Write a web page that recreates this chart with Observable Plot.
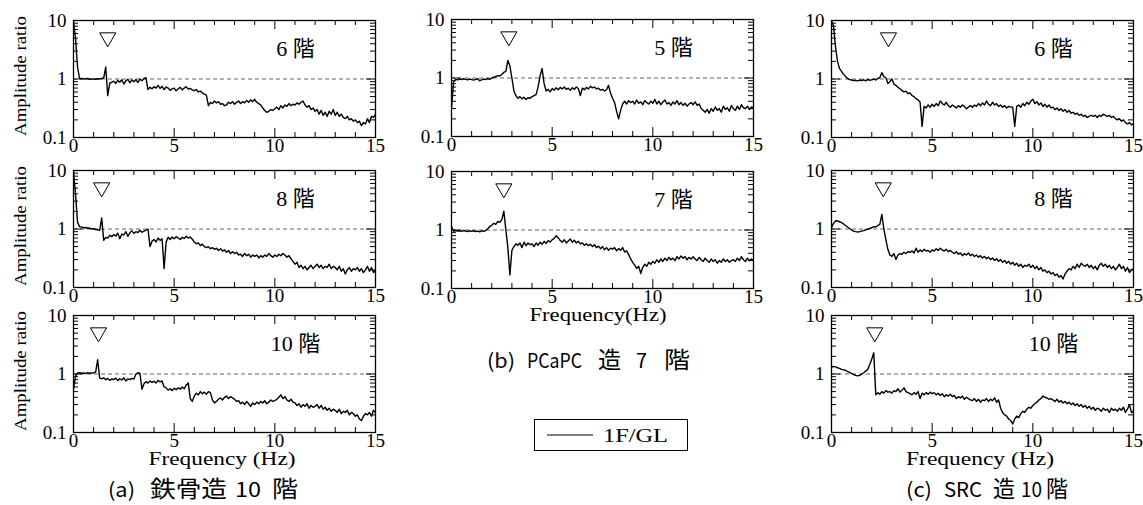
<!DOCTYPE html>
<html><head><meta charset="utf-8">
<script src="https://cdn.jsdelivr.net/npm/d3@7"></script>
<script src="https://cdn.jsdelivr.net/npm/@observablehq/plot@0.6"></script>
<style>
body{margin:0;background:#fff;}
#wrap{position:relative;width:1143px;height:505px;overflow:hidden;background:#fff;}
#overlay{position:absolute;left:0;top:0;}
#wrap svg text{font-family:'Liberation Serif','Noto Sans CJK JP',serif !important;}
#overlay text.cjk{font-family:'Noto Sans CJK JP','Noto Sans',sans-serif !important;}
</style></head><body><div id="wrap"></div>
<script>
// ---- data ----
const freqStep = 0.1; // Hz between samples, 0 .. 15 Hz
const steel6 = [9.5,5.0,1.6,1.03,1.02,1.01,1.0,1.02,0.99,1.0,
 1.0,0.99,1.01,1.0,1.02,1.05,1.6,0.52,0.85,0.88,
 0.92,0.84,0.95,0.88,0.97,0.82,0.93,0.99,0.86,0.96,
 0.9,0.98,0.87,1.0,0.93,1.02,1.05,0.66,0.72,0.68,
 0.74,0.7,0.78,0.69,0.75,0.66,0.73,0.7,0.64,0.68,
 0.7,0.63,0.68,0.72,0.65,0.7,0.74,0.67,0.69,0.65,
 0.63,0.66,0.6,0.62,0.58,0.55,0.53,0.35,0.4,0.38,
 0.42,0.39,0.41,0.37,0.38,0.35,0.36,0.4,0.38,0.41,
 0.37,0.4,0.42,0.38,0.41,0.39,0.43,0.4,0.44,0.41,
 0.45,0.4,0.38,0.36,0.32,0.29,0.27,0.28,0.3,0.29,
 0.31,0.33,0.3,0.35,0.32,0.36,0.34,0.38,0.35,0.37,
 0.36,0.39,0.37,0.4,0.42,0.36,0.33,0.35,0.3,0.32,
 0.28,0.3,0.25,0.29,0.24,0.27,0.23,0.28,0.25,0.3,
 0.24,0.27,0.23,0.25,0.22,0.21,0.23,0.2,0.21,0.19,
 0.2,0.18,0.19,0.16,0.18,0.17,0.21,0.18,0.23,0.22,
 0.25];
const steel8 = [9.5,4.0,1.3,1.1,1.08,1.05,1.06,1.03,1.04,1.0,
 1.01,0.98,0.97,0.95,1.55,0.64,0.72,0.7,0.78,0.74,
 0.8,0.76,0.85,0.68,0.82,0.79,0.9,0.75,0.86,0.93,
 0.84,0.9,0.87,0.95,0.88,0.92,0.96,1.0,0.5,0.62,
 0.66,0.6,0.7,0.64,0.68,0.21,0.6,0.72,0.66,0.73,
 0.68,0.74,0.7,0.66,0.72,0.69,0.75,0.7,0.73,0.67,
 0.6,0.56,0.58,0.52,0.55,0.5,0.48,0.5,0.46,0.48,
 0.45,0.47,0.43,0.46,0.42,0.44,0.4,0.43,0.38,0.41,
 0.38,0.4,0.36,0.37,0.34,0.38,0.35,0.37,0.33,0.36,
 0.34,0.36,0.32,0.35,0.33,0.36,0.34,0.38,0.35,0.33,
 0.36,0.34,0.37,0.35,0.38,0.36,0.33,0.35,0.31,0.28,
 0.25,0.27,0.22,0.24,0.21,0.23,0.2,0.22,0.24,0.21,
 0.23,0.25,0.22,0.24,0.21,0.23,0.22,0.25,0.21,0.23,
 0.22,0.2,0.23,0.19,0.21,0.17,0.2,0.22,0.19,0.21,
 0.2,0.22,0.19,0.21,0.18,0.2,0.23,0.19,0.22,0.18,
 0.2];
const steel10 = [0.55,0.9,1.04,1.05,1.03,1.04,1.02,1.05,1.03,1.04,
 1.05,1.08,1.75,0.85,0.83,0.86,0.8,0.84,0.78,0.82,
 0.8,0.85,0.77,0.83,0.79,0.86,0.76,0.82,0.8,0.84,
 0.82,1.0,1.05,1.03,0.55,0.68,0.74,0.7,0.76,0.72,
 0.75,0.7,0.78,0.73,0.76,0.6,0.58,0.53,0.56,0.52,
 0.57,0.54,0.58,0.55,0.6,0.56,0.65,0.7,0.38,0.34,
 0.42,0.47,0.44,0.5,0.46,0.49,0.45,0.5,0.48,0.36,
 0.32,0.34,0.37,0.39,0.36,0.4,0.42,0.38,0.41,0.39,
 0.37,0.34,0.35,0.31,0.33,0.3,0.34,0.31,0.28,0.32,
 0.3,0.33,0.31,0.34,0.32,0.35,0.31,0.33,0.36,0.34,
 0.35,0.37,0.4,0.44,0.38,0.41,0.36,0.34,0.37,0.33,
 0.32,0.29,0.31,0.27,0.3,0.28,0.31,0.26,0.29,0.27,
 0.28,0.3,0.26,0.29,0.25,0.27,0.24,0.26,0.23,0.25,
 0.24,0.22,0.25,0.21,0.23,0.22,0.24,0.2,0.22,0.21,
 0.19,0.2,0.17,0.16,0.19,0.21,0.2,0.22,0.19,0.24,
 0.22];
const pcapc5 = [0.3,0.85,0.95,0.93,0.96,0.94,0.97,0.95,0.93,0.96,
 0.94,0.92,0.95,0.97,0.9,0.93,0.96,0.94,0.98,0.95,
 1.0,1.03,1.06,1.1,1.08,1.15,1.25,1.3,2.0,1.6,
 1.0,0.6,0.5,0.45,0.48,0.44,0.47,0.43,0.46,0.45,
 0.48,0.5,0.52,0.7,1.1,1.45,0.8,0.6,0.64,0.58,
 0.66,0.62,0.68,0.63,0.69,0.65,0.7,0.64,0.67,0.62,
 0.68,0.64,0.7,0.66,0.5,0.67,0.63,0.69,0.65,0.72,
 0.68,0.7,0.65,0.67,0.62,0.64,0.6,0.63,0.75,0.55,
 0.45,0.38,0.27,0.2,0.28,0.36,0.4,0.36,0.41,0.38,
 0.4,0.36,0.42,0.37,0.39,0.35,0.41,0.38,0.36,0.4,
 0.37,0.43,0.36,0.4,0.35,0.39,0.42,0.36,0.38,0.34,
 0.39,0.36,0.41,0.35,0.38,0.34,0.37,0.33,0.36,0.38,
 0.35,0.39,0.34,0.36,0.3,0.28,0.26,0.29,0.25,0.3,
 0.27,0.32,0.28,0.3,0.26,0.33,0.29,0.31,0.27,0.34,
 0.3,0.28,0.33,0.29,0.35,0.31,0.3,0.33,0.29,0.32,
 0.31];
const pcapc7 = [1.15,0.95,0.98,0.96,0.97,0.95,0.98,0.96,0.94,0.97,
 0.95,0.97,0.94,0.96,0.93,0.97,0.95,0.98,1.05,1.15,
 1.2,1.3,1.25,1.4,1.35,1.5,2.1,1.0,0.5,0.17,
 0.45,0.52,0.58,0.55,0.6,0.5,0.62,0.54,0.6,0.56,
 0.58,0.52,0.6,0.55,0.62,0.57,0.64,0.59,0.66,0.62,
 0.68,0.72,0.8,0.74,0.66,0.62,0.68,0.6,0.65,0.7,
 0.62,0.67,0.6,0.64,0.58,0.6,0.55,0.58,0.54,0.57,
 0.52,0.56,0.5,0.53,0.48,0.52,0.46,0.5,0.45,0.49,
 0.47,0.5,0.44,0.48,0.45,0.5,0.42,0.44,0.38,0.32,
 0.28,0.25,0.22,0.24,0.18,0.23,0.26,0.24,0.28,0.26,
 0.29,0.27,0.31,0.28,0.32,0.29,0.33,0.3,0.34,0.31,
 0.33,0.3,0.35,0.32,0.36,0.33,0.35,0.31,0.34,0.32,
 0.35,0.32,0.3,0.34,0.31,0.29,0.33,0.3,0.28,0.32,
 0.29,0.31,0.27,0.3,0.28,0.32,0.29,0.31,0.28,0.3,
 0.31,0.29,0.33,0.3,0.35,0.31,0.29,0.33,0.3,0.32,
 0.3];
const src6 = [10,8,3.5,2.0,1.5,1.35,1.2,1.1,1.02,0.98,
 0.96,0.94,0.95,0.93,0.96,0.94,0.97,0.93,0.98,0.95,
 0.97,1.0,0.96,1.02,1.05,1.28,1.1,1.05,0.84,0.9,
 1.0,0.82,0.78,0.72,0.68,0.64,0.6,0.62,0.56,0.58,
 0.52,0.5,0.46,0.44,0.4,0.155,0.34,0.32,0.36,0.33,
 0.37,0.34,0.38,0.35,0.42,0.38,0.36,0.4,0.35,0.33,
 0.36,0.34,0.32,0.35,0.33,0.36,0.34,0.31,0.33,0.35,
 0.33,0.36,0.34,0.38,0.35,0.39,0.36,0.42,0.37,0.35,
 0.4,0.36,0.38,0.34,0.36,0.33,0.35,0.32,0.34,0.33,
 0.33,0.155,0.34,0.36,0.33,0.38,0.35,0.4,0.37,0.42,
 0.45,0.38,0.41,0.36,0.39,0.34,0.37,0.33,0.36,0.32,
 0.33,0.3,0.32,0.29,0.31,0.28,0.3,0.27,0.29,0.26,
 0.27,0.25,0.26,0.24,0.25,0.23,0.24,0.22,0.23,0.24,
 0.23,0.24,0.22,0.24,0.23,0.25,0.24,0.23,0.24,0.22,
 0.23,0.21,0.2,0.21,0.19,0.2,0.18,0.17,0.18,0.165,
 0.17];
const src8 = [1.05,1.25,1.38,1.37,1.33,1.28,1.22,1.15,1.08,1.02,
 0.96,0.92,0.9,0.89,0.9,0.92,0.94,0.97,0.99,1.02,
 1.05,1.1,1.08,1.15,1.2,1.78,1.0,0.66,0.45,0.36,
 0.34,0.38,0.3,0.36,0.38,0.37,0.4,0.38,0.41,0.4,
 0.42,0.39,0.47,0.4,0.44,0.41,0.45,0.42,0.43,0.4,
 0.44,0.42,0.46,0.43,0.47,0.44,0.42,0.45,0.41,0.43,
 0.4,0.38,0.41,0.37,0.39,0.35,0.38,0.36,0.39,0.35,
 0.37,0.34,0.36,0.33,0.35,0.32,0.34,0.31,0.33,0.3,
 0.32,0.29,0.31,0.28,0.3,0.27,0.29,0.26,0.28,0.25,
 0.27,0.24,0.26,0.23,0.25,0.22,0.24,0.23,0.25,0.22,
 0.24,0.21,0.23,0.2,0.22,0.19,0.2,0.18,0.19,0.17,
 0.18,0.16,0.17,0.15,0.16,0.14,0.17,0.19,0.21,0.2,
 0.23,0.21,0.25,0.22,0.26,0.24,0.23,0.25,0.22,0.24,
 0.21,0.23,0.2,0.24,0.26,0.23,0.25,0.22,0.24,0.21,
 0.23,0.2,0.22,0.25,0.21,0.23,0.19,0.22,0.18,0.2,
 0.21];
const src10 = [1.3,1.35,1.32,1.28,1.25,1.2,1.18,1.15,1.1,1.07,
 1.02,0.98,0.95,0.93,0.95,1.0,1.05,1.12,1.2,1.45,
 1.8,2.3,0.44,0.48,0.45,0.5,0.47,0.52,0.49,0.5,
 0.47,0.52,0.5,0.56,0.49,0.53,0.58,0.5,0.48,0.46,
 0.44,0.48,0.45,0.5,0.38,0.47,0.44,0.48,0.45,0.49,
 0.46,0.48,0.44,0.47,0.43,0.46,0.41,0.44,0.42,0.45,
 0.41,0.43,0.38,0.41,0.39,0.42,0.37,0.4,0.38,0.36,
 0.35,0.38,0.34,0.37,0.33,0.36,0.35,0.38,0.34,0.37,
 0.35,0.39,0.33,0.36,0.26,0.22,0.2,0.19,0.17,0.16,
 0.14,0.17,0.19,0.18,0.21,0.23,0.22,0.25,0.27,0.26,
 0.29,0.31,0.33,0.36,0.38,0.42,0.4,0.39,0.37,0.38,
 0.36,0.34,0.37,0.33,0.35,0.32,0.34,0.31,0.33,0.3,
 0.32,0.29,0.31,0.28,0.3,0.27,0.29,0.26,0.28,0.25,
 0.27,0.24,0.26,0.25,0.23,0.26,0.24,0.25,0.22,0.26,
 0.24,0.25,0.23,0.26,0.24,0.27,0.22,0.25,0.3,0.22,
 0.23];

const seriesList = [steel6, steel8, steel10, pcapc5, pcapc7, src6, src8, src10];
const floorLabels = ["6 階","8 階","10 階","5 階","7 階","6 階","8 階","10 階"];
const peakFreqs = [1.7, 1.4, 1.24, 2.85, 2.6, 2.83, 2.57, 2.15];
const xTicks = [0, 5, 10, 15];
const xTickLabels = ["0", "5", "10", "15"];
const yTicks = [0.1, 1, 10];
const yTickLabels = ["0.1", "1", "10"];
const xMinor = [1,2,3,4,6,7,8,9,11,12,13,14];
const xMajor = [5, 10];
const yMinor = [0.2,0.3,0.4,0.5,0.6,0.7,0.8,0.9,2,3,4,5,6,7,8,9];
const yMajor = [1];
const yAxisLabel = "Amplitude ratio";
const xAxisLabels = ["Frequency (Hz)", "Frequency(Hz)", "Frequency (Hz)"];
const subtitleParts = [
  ["(a)", "鉄骨造", "10", "階"],
  ["(b)", "PCaPC", "造", "7", "階"],
  ["(c)", "SRC", "造", "10", "階"]
];
const legendLabel = "1F/GL";

// ---- layout ----
const W = 302, H = 117, ML = 45, MR = 12, MT = 8, MB = 30;
const frames = [
  {left: 73, top: 20}, {left: 73, top: 170}, {left: 73, top: 315},
  {left: 451, top: 19}, {left: 451, top: 171},
  {left: 831, top: 20}, {left: 831, top: 170}, {left: 831, top: 315}
];
// [x start, width] of each subtitle part, and baseline
const subtitleLayout = [
  {y: 497, parts: [[108, 27], [150, 77], [235, 26], [272, 26]]},
  {y: 368, parts: [[487, 28], [527, 55], [598, 23], [636, 11], [664, 26]]},
  {y: 497, parts: [[906, 26], [944, 38], [993, 22], [1021, 21], [1046, 22]]}
];
const wrap = document.getElementById("wrap");

seriesList.forEach((vals, i) => {
  const data = vals.map((v, j) => ({f: j * freqStep, v}));
  const p = Plot.plot({
    width: W + ML + MR, height: H + MT + MB,
    marginLeft: ML, marginRight: MR, marginTop: MT, marginBottom: MB,
    x: {domain: [0, 15]},
    y: {type: "log", domain: [0.1, 10]},
    style: {background: "transparent", overflow: "visible"},
    marks: [
      Plot.ruleY([1], {stroke: "#555", strokeWidth: 0.9, strokeDasharray: "4,3"}),
      Plot.line(data, {x: "f", y: "v", stroke: "#000", strokeWidth: 1.4, clip: true}),
      Plot.ruleX(xMinor, {insetTop: H - 5, stroke: "#000"}),
      Plot.ruleX(xMinor, {insetBottom: H - 5, stroke: "#000"}),
      Plot.ruleX(xMajor, {insetTop: H - 9, stroke: "#000"}),
      Plot.ruleX(xMajor, {insetBottom: H - 9, stroke: "#000"}),
      Plot.ruleY(yMinor, {insetRight: W - 5, stroke: "#000"}),
      Plot.ruleY(yMinor, {insetLeft: W - 5, stroke: "#000"}),
      Plot.ruleY(yMajor, {insetRight: W - 9, stroke: "#000"}),
      Plot.ruleY(yMajor, {insetLeft: W - 9, stroke: "#000"}),
      Plot.frame({stroke: "#000", strokeWidth: 1.3}),
      Plot.axisX(xTicks, {tickSize: 0, tickPadding: 1, fontSize: 19, label: null,
        tickFormat: d => xTickLabels[xTicks.indexOf(d)]}),
      Plot.axisY(yTicks, {tickSize: 0, tickPadding: 7, fontSize: 19, label: null,
        tickFormat: d => yTickLabels[yTicks.indexOf(d)]}),
      Plot.dot([peakFreqs[i]], {x: d => d, frameAnchor: "top", dy: 17, symbol: "triangle",
        rotate: 180, r: 6, stroke: "#000", fill: "#fff", strokeWidth: 1}),
      Plot.text([floorLabels[i]], {text: d => d, frameAnchor: "top-right", dx: -80, dy: 28,
        textAnchor: "middle", lineAnchor: "middle", fontSize: 22, fill: "#000"})
    ]
  });
  p.setAttribute("font-family", "'Liberation Serif','Noto Sans CJK JP',serif");
  p.style.position = "absolute";
  p.style.left = (frames[i].left - ML) + "px";
  p.style.top = (frames[i].top - MT) + "px";
  p.style.maxWidth = "none";
  wrap.appendChild(p);
});

// ---- overlay text ----
const ov = d3.select(wrap).append("svg").attr("id", "overlay")
  .attr("width", 1143).attr("height", 505);

[76, 226, 371].forEach(cy => {
  ov.append("text").attr("transform", `translate(26,${cy}) rotate(-90)`)
    .attr("text-anchor", "middle").attr("font-size", 17)
    .attr("textLength", 120).attr("lengthAdjust", "spacingAndGlyphs").text(yAxisLabel);
});

const xlabPos = [{x: 222, y: 465, w: 147}, {x: 598, y: 321, w: 137}, {x: 980, y: 465, w: 148}];
xlabPos.forEach((d, i) => {
  ov.append("text").attr("x", d.x).attr("y", d.y).attr("text-anchor", "middle")
    .attr("font-size", 18)
    .attr("textLength", d.w).attr("lengthAdjust", "spacingAndGlyphs").text(xAxisLabels[i]);
});

subtitleParts.forEach((parts, i) => {
  const lay = subtitleLayout[i];
  parts.forEach((s, k) => {
    const ascii = /^[\x00-\x7f]+$/.test(s);
    ov.append("text").attr("class", "cjk").attr("x", lay.parts[k][0]).attr("y", lay.y)
      .attr("font-size", ascii ? 20 : 23)
      .attr("textLength", lay.parts[k][1]).attr("lengthAdjust", "spacingAndGlyphs").text(s);
  });
});

// legend
ov.append("rect").attr("x", 534.5).attr("y", 419.5).attr("width", 153).attr("height", 31)
  .attr("fill", "none").attr("stroke", "#000").attr("stroke-width", 1);
ov.append("line").attr("x1", 547).attr("x2", 593).attr("y1", 435).attr("y2", 435)
  .attr("stroke", "#000").attr("stroke-width", 1.2);
ov.append("text").attr("x", 603).attr("y", 442).attr("font-size", 18)
  .attr("textLength", 65).attr("lengthAdjust", "spacingAndGlyphs").text(legendLabel);
</script>
</body></html>
